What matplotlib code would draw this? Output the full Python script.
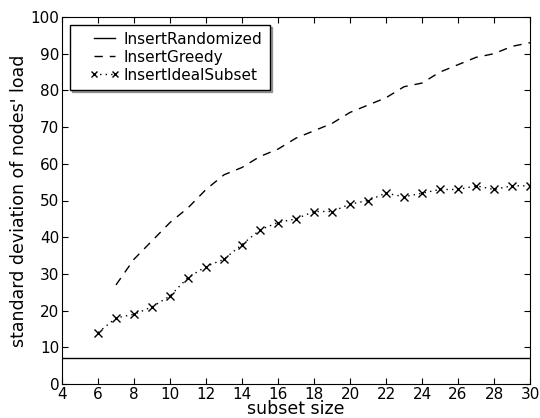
import matplotlib

matplotlib.use("Agg")

import matplotlib.pyplot as plt
import numpy as np
from matplotlib.legend_handler import HandlerLine2D

rand_x = list(range(4, 31))
rand_y = [7] * len(rand_x)

greedy_x = list(range(7, 31))
greedy_y = [27, 34, 39, 44, 48, 53, 57, 59, 62, 64, 67, 69, 71, 74, 76, 78, 81, 82, 85, 87, 89, 90, 92, 93]

ideal_x = list(range(6, 31))
ideal_y = [14, 18, 19, 21, 24, 29, 32, 34, 38, 42, 44, 45, 47, 47, 49, 50, 52, 51, 52, 53, 53, 54, 53, 54, 54]

x_ticks = list(range(4, 31, 2))
y_ticks = list(range(0, 101, 10))


class ShortHandle(HandlerLine2D):
    # old-style legend: short line sitting at the right of the handle box
    def get_xdata(self, legend, xdescent, ydescent, width, height, fontsize):
        xdata = np.linspace(-xdescent + 0.45 * width, -xdescent + width, 2)
        return xdata, xdata


plt.rcParams["font.family"] = ["DejaVu Sans"]
plt.rcParams["xtick.direction"] = "in"
plt.rcParams["ytick.direction"] = "in"

fig = plt.figure(figsize=(5.4, 4.18), dpi=100)
ax = fig.add_axes([62 / 540, 1 - 384 / 418, 468 / 540, 367 / 418])

ax.plot(rand_x, rand_y, "k-", linewidth=1.0, label="InsertRandomized")
ax.plot(greedy_x, greedy_y, color="k", linestyle=(0, (6, 5)), linewidth=1.0, label="InsertGreedy")
ax.plot(ideal_x, ideal_y, color="k", linestyle=(0, (1, 3)), marker="x", markersize=5.5,
        markeredgewidth=1.0, linewidth=1.0, label="InsertIdealSubset")

ax.set_xlim(4, 30)
ax.set_ylim(0, 100)
ax.set_xticks(x_ticks)
ax.set_yticks(y_ticks)
ax.tick_params(axis="both", labelsize=11, length=4, top=True, right=True, pad=2)
ax.set_xlabel("subset size", fontsize=12.5, labelpad=-1)
ax.set_ylabel("standard deviation of nodes' load", fontsize=12.5, labelpad=2)

leg = ax.legend(loc="upper left", fontsize=11, shadow=True, fancybox=False, handlelength=2.5,
                numpoints=2, markerscale=0.75, borderpad=0.45, labelspacing=0.2, handletextpad=0.6,
                borderaxespad=0.5, handler_map={plt.Line2D: ShortHandle()})
leg.get_frame().set_edgecolor("black")
leg.get_frame().set_linewidth(1.0)

fig.savefig("out.png", dpi=100)
